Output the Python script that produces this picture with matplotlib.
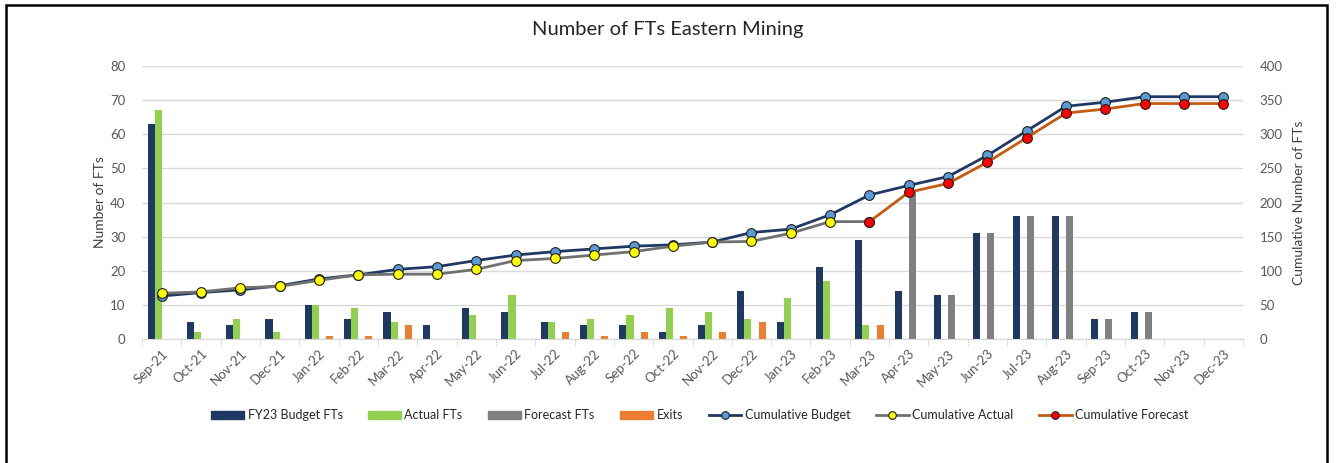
import numpy as np
import matplotlib
matplotlib.use("Agg")
import matplotlib.pyplot as plt
from matplotlib.patches import Rectangle, Patch
from matplotlib.lines import Line2D

plt.rcParams['font.family'] = ['Lato', 'DejaVu Sans']

months = ["Sep-21", "Oct-21", "Nov-21", "Dec-21", "Jan-22", "Feb-22", "Mar-22", "Apr-22",
          "May-22", "Jun-22", "Jul-22", "Aug-22", "Sep-22", "Oct-22", "Nov-22", "Dec-22",
          "Jan-23", "Feb-23", "Mar-23", "Apr-23", "May-23", "Jun-23", "Jul-23", "Aug-23",
          "Sep-23", "Oct-23", "Nov-23", "Dec-23"]

budget_fts = [63, 5, 4, 6, 10, 6, 8, 4, 9, 8, 5, 4, 4, 2, 4, 14, 5, 21, 29, 14, 13, 31, 36, 36, 6, 8, 0, 0]
actual_fts = [67, 2, 6, 2, 10, 9, 5, 0, 7, 13, 5, 6, 7, 9, 8, 6, 12, 17, 4, 0, 0, 0, 0, 0, 0, 0, 0, 0]
forecast_fts = [0, 0, 0, 0, 0, 0, 0, 0, 0, 0, 0, 0, 0, 0, 0, 0, 0, 0, 0, 43, 13, 31, 36, 36, 6, 8, 0, 0]
exits = [0, 0, 0, 0, 1, 1, 4, 0, 0, 0, 2, 1, 2, 1, 2, 5, 0, 0, 4, 0, 0, 0, 0, 0, 0, 0, 0, 0]

cum_budget = [63, 68, 72, 78, 88, 94, 102, 106, 115, 123, 128, 132, 136, 138, 142, 156, 161, 182,
              211, 225, 238, 269, 305, 341, 347, 355, 355, 355]
cum_actual = [67, 69, 75, 77, 86, 94, 95, 95, 102, 115, 118, 123, 128, 136, 142, 143, 155, 172,
              172] + [np.nan] * 9
cum_forecast = [np.nan] * 18 + [172, 215, 228, 259, 295, 331, 337, 345, 345, 345]

C_BUD = "#203864"
C_ACT = "#92D050"
C_FC = "#808080"
C_EX = "#ED7D31"
TXT = "#595959"

fig = plt.figure(figsize=(13.36, 4.63), dpi=100)
ax = fig.add_axes([142 / 1336, 1 - 339 / 463, (1243 - 142) / 1336, (339 - 66) / 463])
ax2 = ax.twinx()

x = np.arange(len(months))
w = 0.18
ax.bar(x - 1.5 * w, budget_fts, w, color=C_BUD, zorder=3)
ax.bar(x - 0.5 * w, actual_fts, w, color=C_ACT, zorder=3)
ax.bar(x + 0.5 * w, forecast_fts, w, color=C_FC, zorder=3)
ax.bar(x + 1.5 * w, exits, w, color=C_EX, zorder=3)

mk = dict(marker='o', ms=7, mec="#1F1F1F", mew=0.8)
ax2.plot(x, cum_budget, color=C_BUD, lw=2, mfc="#5B9BD5", zorder=3, **mk)
ax2.plot(x, cum_actual, color="#707070", lw=2, mfc="#FFFF00", zorder=4, **mk)
ax2.plot(x, cum_forecast, color="#C55A11", lw=2, mfc="#FF0000", zorder=5, **mk)

ax.set_xlim(-0.5, len(months) - 0.5)
ax.set_ylim(0, 80)
ax.set_yticks(np.arange(0, 81, 10))
ax2.set_ylim(0, 400)
ax2.set_yticks(np.arange(0, 401, 50))

ax.grid(axis='y', color="#D9D9D9", lw=1, zorder=0)
ax.set_axisbelow(True)
for a in (ax, ax2):
    for s in ("top", "left", "right"):
        a.spines[s].set_visible(False)
    a.spines["bottom"].set_color("#D9D9D9")
ax.tick_params(axis='y', length=0, labelsize=9.5, labelcolor=TXT, pad=12)
ax2.tick_params(axis='y', length=0, labelsize=9.5, labelcolor=TXT, pad=12)

ax.set_xticks(x)
ax.set_xticklabels(months, rotation=45, ha='right', rotation_mode='anchor', fontsize=9.5, color=TXT)
ax.tick_params(axis='x', which='major', length=0, pad=6)
ax.set_xticks(np.arange(-0.5, len(months), 1), minor=True)
ax.tick_params(axis='x', which='minor', length=5, color="#D9D9D9")

ax.set_ylabel("Number of FTs", fontsize=10, color="#404040", labelpad=3)
ax2.set_ylabel("Cumulative Number of FTs", fontsize=10, color="#404040", labelpad=7)

fig.text(0.5, 1 - 30 / 463, "Number of FTs Eastern Mining", ha='center', va='center',
         fontsize=14.5, color="#262626")

lk = dict(marker='o', ms=5.5, mec="#1F1F1F", mew=0.8, lw=2)
handles = [
    Patch(color=C_BUD, label="FY23 Budget FTs"),
    Patch(color=C_ACT, label="Actual FTs"),
    Patch(color=C_FC, label="Forecast FTs"),
    Patch(color=C_EX, label="Exits"),
    Line2D([], [], color=C_BUD, mfc="#5B9BD5", label="Cumulative Budget", **lk),
    Line2D([], [], color="#707070", mfc="#FFFF00", label="Cumulative Actual", **lk),
    Line2D([], [], color="#C55A11", mfc="#FF0000", label="Cumulative Forecast", **lk),
]
leg = fig.legend(handles=handles, loc='center', bbox_to_anchor=(700 / 1336, 1 - 415 / 463), ncol=7,
                 frameon=False, fontsize=9, handlelength=2.6, handleheight=0.6, columnspacing=2.05,
                 handletextpad=0.3)
for t in leg.get_texts():
    t.set_color("#262626")

fig.patches.append(Rectangle((6 / 1336, -0.1), (1327 - 6) / 1336, 1.1 - 5 / 463,
                             transform=fig.transFigure, fill=False, edgecolor="black", lw=1.8))

fig.savefig("out.png", dpi=100)
